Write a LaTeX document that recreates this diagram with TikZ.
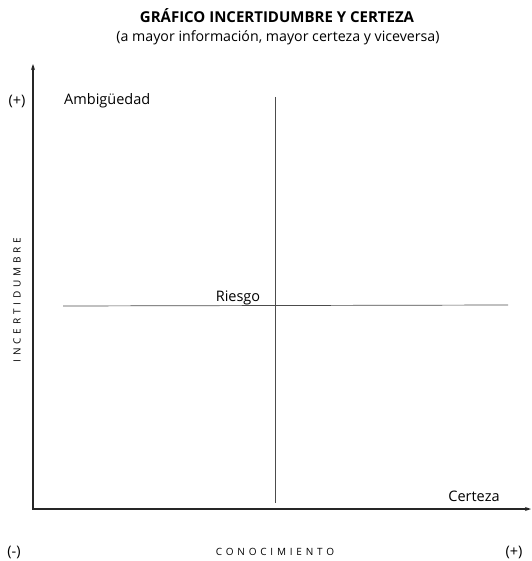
\documentclass[tikz,border=0pt]{standalone}
\usepackage{fontspec}
\setmainfont{Open Sans}
\usetikzlibrary{arrows.meta}
\begin{document}
\begin{tikzpicture}[x=1pt,y=-1pt,
  lbl/.style={inner sep=0pt,font=\fontsize{14.5}{16}\selectfont},
  axlbl/.style={inner sep=0pt,font=\fontsize{10}{12}\selectfont\addfontfeature{LetterSpace=38}},
  axis/.style={line width=1.2pt,black!85,-{Stealth[length=6pt,width=4pt]}},
  inner/.style={line width=0.7pt,black!70}]
\useasboundingbox (0,0) rectangle (531,561);
\node[lbl,font=\fontsize{15}{17}\selectfont\bfseries] (title) at (277,16) {GRÁFICO INCERTIDUMBRE Y CERTEZA};
\node[lbl,font=\fontsize{14.2}{16}\selectfont] (sub) at (278,38) {(a mayor información, mayor certeza y viceversa)};
\coordinate (o) at (33,509);
\coordinate (ytop) at (33,64);
\coordinate (xend) at (531,509);
\draw[axis] (o) -- (ytop);
\draw[axis] ([xshift=-0.6pt]o) -- (xend);
\coordinate (vt) at (275,97);
\coordinate (vb) at (275,503);
\coordinate (hl) at (63,306);
\coordinate (hr) at (508,305);
\draw[inner] (vt) -- (vb);
\draw[inner] (hl) -- (hr);
\node[lbl] (yplus) at (17,101) {(+)};
\node[lbl,anchor=west] (amb) at (64,101) {Ambigüedad};
\node[lbl] (ries) at (238,298) {Riesgo};
\node[lbl] (cert) at (474,496) {Certeza};
\node[lbl] (xminus) at (14,552) {(-)};
\node[lbl] (xplus) at (514,552) {(+)};
\node[axlbl] (con) at (275,552) {CONOCIMIENTO};
\node[axlbl,rotate=90] (inc) at (17,300) {INCERTIDUMBRE};
\end{tikzpicture}
\end{document}
